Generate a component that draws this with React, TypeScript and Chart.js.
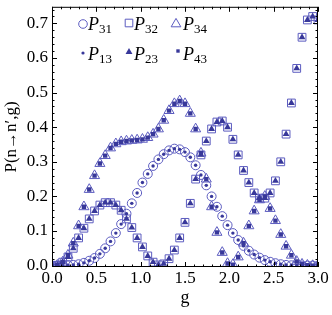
import React, { useEffect, useRef } from 'react';
import { Chart, registerables } from 'chart.js';

Chart.register(...registerables);

// coupling strength g (sample points)
const gValues = [
  0.0, 0.06, 0.12, 0.18, 0.24, 0.3, 0.36, 0.42, 0.48, 0.54,
  0.6, 0.66, 0.72, 0.78, 0.84, 0.9, 0.96, 1.02, 1.08, 1.14,
  1.2, 1.26, 1.32, 1.38, 1.44, 1.5, 1.56, 1.62, 1.68, 1.74,
  1.8, 1.86, 1.92, 1.98, 2.04, 2.1, 2.16, 2.22, 2.28, 2.34,
  2.4, 2.46, 2.52, 2.58, 2.64, 2.7, 2.76, 2.82, 2.88, 2.94, 3.0,
];

// P31 (open circles) — P13 (dots) coincides with it
const p31 = [
  0, 0, 0, 0.001, 0.002, 0.004, 0.008, 0.014, 0.022, 0.034,
  0.05, 0.07, 0.094, 0.12, 0.15, 0.18, 0.21, 0.24, 0.265, 0.288,
  0.307, 0.322, 0.333, 0.338, 0.336, 0.328, 0.313, 0.29, 0.262, 0.232,
  0.2, 0.17, 0.143, 0.117, 0.094, 0.074, 0.057, 0.043, 0.032, 0.023,
  0.016, 0.011, 0.007, 0.004, 0.002, 0.001, 0, 0, 0, 0, 0,
];
const p13 = [
  0, 0, 0, 0.001, 0.002, 0.004, 0.008, 0.014, 0.022, 0.034,
  0.05, 0.07, 0.094, 0.12, 0.15, 0.18, 0.21, 0.24, 0.265, 0.288,
  0.307, 0.322, 0.333, 0.338, 0.336, 0.328, 0.313, 0.29, 0.262, 0.232,
  0.2, 0.17, 0.143, 0.117, 0.094, 0.074, 0.057, 0.043, 0.032, 0.023,
  0.016, 0.011, 0.007, 0.004, 0.002, 0.001, 0, 0, 0, 0, 0,
];

// P32 (open squares) — P23 (filled triangles) coincides with it
const p32 = [
  0, 0.001, 0.01, 0.025, 0.05, 0.08, 0.108, 0.135, 0.158, 0.175,
  0.182, 0.182, 0.175, 0.16, 0.135, 0.11, 0.08, 0.054, 0.028, 0.01,
  0.002, 0.005, 0.02, 0.045, 0.08, 0.125, 0.18, 0.25, 0.32, 0.36,
  0.395, 0.415, 0.418, 0.4, 0.365, 0.32, 0.275, 0.24, 0.21, 0.195,
  0.195, 0.21, 0.245, 0.3, 0.38, 0.47, 0.57, 0.66, 0.71, 0.72, 0.71,
];
const p23 = [
  0, 0.001, 0.01, 0.025, 0.05, 0.08, 0.108, 0.135, 0.158, 0.175,
  0.182, 0.182, 0.175, 0.16, 0.135, 0.11, 0.08, 0.054, 0.028, 0.01,
  0.002, 0.005, 0.02, 0.045, 0.08, 0.125, 0.18, 0.25, 0.32, 0.36,
  0.395, 0.415, 0.418, 0.4, 0.365, 0.32, 0.275, 0.24, 0.21, 0.195,
  0.195, 0.21, 0.245, 0.3, 0.38, 0.47, 0.57, 0.66, 0.71, 0.72, 0.71,
];

// P34 (open triangles) — P43 (filled squares) coincides with it
const p34 = [
  0, 0.001, 0.01, 0.03, 0.065, 0.115, 0.17, 0.22, 0.26, 0.295,
  0.318, 0.34, 0.352, 0.358, 0.36, 0.362, 0.363, 0.365, 0.37, 0.38,
  0.395, 0.42, 0.448, 0.468, 0.476, 0.468, 0.44, 0.395, 0.325, 0.25,
  0.17, 0.096, 0.038, 0.006, 0.003, 0.025, 0.065, 0.115, 0.158, 0.19,
  0.2, 0.165, 0.13, 0.09, 0.056, 0.03, 0.012, 0.004, 0.001, 0, 0,
];
const p43 = [
  0, 0.001, 0.01, 0.03, 0.065, 0.115, 0.17, 0.22, 0.26, 0.295,
  0.318, 0.34, 0.352, 0.358, 0.36, 0.362, 0.363, 0.365, 0.37, 0.38,
  0.395, 0.42, 0.448, 0.468, 0.476, 0.468, 0.44, 0.395, 0.325, 0.25,
  0.17, 0.096, 0.038, 0.006, 0.003, 0.025, 0.065, 0.115, 0.158, 0.19,
  0.2, 0.165, 0.13, 0.09, 0.056, 0.03, 0.012, 0.004, 0.001, 0, 0,
];

const xTickLabels = ['0.0', '0.5', '1.0', '1.5', '2.0', '2.5', '3.0'];
const yTickLabels = ['0.0', '0.1', '0.2', '0.3', '0.4', '0.5', '0.6', '0.7'];

const FILL = '#38389a';
const LINE = '#5c5cc0';
const SERIF = "'Liberation Serif', 'Times New Roman', serif";

const toPts = (ys: number[]) => gValues.map((g, i) => ({ x: g, y: ys[i] }));

function drawMarker(ctx: CanvasRenderingContext2D, kind: string, x: number, y: number) {
  ctx.save();
  ctx.lineWidth = 1;
  ctx.strokeStyle = LINE;
  ctx.fillStyle = FILL;
  ctx.beginPath();
  if (kind === 'openCircle') {
    ctx.arc(x, y, 4.3, 0, Math.PI * 2);
    ctx.stroke();
  } else if (kind === 'openSquare') {
    ctx.rect(x - 3.8, y - 3.8, 7.6, 7.6);
    ctx.stroke();
  } else if (kind === 'openTriangle') {
    const r = 5.6;
    for (let k = 0; k < 3; k++) {
      const a = (k * 2 * Math.PI) / 3;
      const px = x + Math.sin(a) * r;
      const py = y - Math.cos(a) * r;
      if (k === 0) ctx.moveTo(px, py);
      else ctx.lineTo(px, py);
    }
    ctx.closePath();
    ctx.stroke();
  } else if (kind === 'dot') {
    ctx.arc(x, y, 1.6, 0, Math.PI * 2);
    ctx.fill();
  } else if (kind === 'fillTriangle') {
    const r = 4;
    for (let k = 0; k < 3; k++) {
      const a = (k * 2 * Math.PI) / 3;
      const px = x + Math.sin(a) * r;
      const py = y - Math.cos(a) * r;
      if (k === 0) ctx.moveTo(px, py);
      else ctx.lineTo(px, py);
    }
    ctx.closePath();
    ctx.fill();
  } else if (kind === 'fillSquare') {
    ctx.rect(x - 1.7, y - 1.7, 3.4, 3.4);
    ctx.fill();
  }
  ctx.restore();
}

const legendItems = [
  { kind: 'openCircle', sub: '31', mx: 83, my: 24, tx: 88, ty: 30 },
  { kind: 'openSquare', sub: '32', mx: 129, my: 23, tx: 134, ty: 30 },
  { kind: 'openTriangle', sub: '34', mx: 176, my: 24, tx: 183, ty: 30 },
  { kind: 'dot', sub: '13', mx: 83, my: 53, tx: 88, ty: 60 },
  { kind: 'fillTriangle', sub: '23', mx: 129, my: 52, tx: 134, ty: 60 },
  { kind: 'fillSquare', sub: '43', mx: 178, my: 51, tx: 183, ty: 60 },
];

const framePlugin = {
  id: 'mmaFrame',
  afterDatasetsDraw(chart: any) {
    const { ctx, chartArea } = chart;
    const xs = chart.scales.x;
    const ys = chart.scales.y;
    const { left, right, top, bottom } = chartArea;
    ctx.save();
    ctx.strokeStyle = '#000';
    ctx.lineWidth = 1;
    // frame
    ctx.strokeRect(left + 0.5, top + 0.5, right - left - 1, bottom - top - 1);
    // x ticks (bottom & top), minor every 0.1
    ctx.beginPath();
    for (let i = 0; i <= 30; i++) {
      const v = i / 10;
      const px = Math.round(xs.getPixelForValue(v)) + 0.5;
      const len = i % 5 === 0 ? 5 : 2.5;
      ctx.moveTo(px, bottom);
      ctx.lineTo(px, bottom - len);
      ctx.moveTo(px, top);
      ctx.lineTo(px, top + len);
    }
    // y ticks (left & right), minor every 0.02
    for (let i = 0; i <= 37; i++) {
      const v = i / 50;
      const py = Math.round(ys.getPixelForValue(v)) + 0.5;
      if (py < top || py > bottom) continue;
      const len = i % 5 === 0 ? 5 : 2.5;
      ctx.moveTo(left, py);
      ctx.lineTo(left + len, py);
      ctx.moveTo(right, py);
      ctx.lineTo(right - len, py);
    }
    ctx.stroke();

    // tick labels
    ctx.fillStyle = '#000';
    ctx.font = `17px ${SERIF}`;
    ctx.textAlign = 'center';
    ctx.textBaseline = 'alphabetic';
    xTickLabels.forEach((t) => {
      const px = xs.getPixelForValue(parseFloat(t));
      ctx.fillText(t, px, bottom + 16);
    });
    ctx.textAlign = 'right';
    ctx.textBaseline = 'middle';
    yTickLabels.forEach((t) => {
      const py = ys.getPixelForValue(parseFloat(t));
      ctx.fillText(t, left - 4, py);
    });

    // axis titles
    ctx.font = `18px ${SERIF}`;
    ctx.textAlign = 'center';
    ctx.textBaseline = 'alphabetic';
    ctx.fillText('g', (left + right) / 2, 303);
    ctx.save();
    ctx.translate(16, (top + bottom) / 2);
    ctx.rotate(-Math.PI / 2);
    ctx.font = `17px ${SERIF}`;
    ctx.fillText('P(n\u2192n\u2032,g)', 0, 0);
    ctx.restore();

    // legend
    legendItems.forEach((it) => {
      drawMarker(ctx, it.kind, it.mx, it.my);
      ctx.textAlign = 'left';
      ctx.textBaseline = 'alphabetic';
      ctx.font = `italic 18px ${SERIF}`;
      ctx.fillText('P', it.tx, it.ty);
      const w = ctx.measureText('P').width;
      ctx.font = `13px ${SERIF}`;
      ctx.fillText(it.sub, it.tx + w, it.ty + 3);
    });
    ctx.restore();
  },
};

export default function App() {
  const canvasRef = useRef<HTMLCanvasElement | null>(null);

  useEffect(() => {
    const canvas = canvasRef.current;
    if (!canvas) return;
    const chart = new Chart(canvas, {
      type: 'scatter',
      data: {
        datasets: [
          {
            label: 'P13',
            data: toPts(p13),
            pointStyle: 'circle',
            pointRadius: 1.7,
            backgroundColor: FILL,
            borderWidth: 0,
          },
          {
            label: 'P23',
            data: toPts(p23),
            pointStyle: 'triangle',
            pointRadius: 3.9,
            backgroundColor: FILL,
            borderWidth: 0,
          },
          {
            label: 'P43',
            data: toPts(p43),
            pointStyle: 'rect',
            pointRadius: 3.1,
            backgroundColor: FILL,
            borderWidth: 0,
          },
          {
            label: 'P31',
            data: toPts(p31),
            pointStyle: 'circle',
            pointRadius: 4.5,
            backgroundColor: 'rgba(0,0,0,0)',
            borderColor: LINE,
            borderWidth: 1,
          },
          {
            label: 'P32',
            data: toPts(p32),
            pointStyle: 'rect',
            pointRadius: 5.5,
            backgroundColor: 'rgba(0,0,0,0)',
            borderColor: LINE,
            borderWidth: 1,
          },
          {
            label: 'P34',
            data: toPts(p34),
            pointStyle: 'triangle',
            pointRadius: 5.8,
            backgroundColor: 'rgba(0,0,0,0)',
            borderColor: LINE,
            borderWidth: 1,
          },
        ],
      },
      options: {
        animation: false,
        responsive: false,
        maintainAspectRatio: false,
        devicePixelRatio: 1,
        layout: { padding: { left: 52, right: 14, top: 1, bottom: 48 } },
        scales: {
          x: { type: 'linear', min: 0, max: 3, display: false },
          y: { type: 'linear', min: -0.004, max: 0.748, display: false },
        },
        plugins: {
          legend: { display: false },
          tooltip: { enabled: false },
        },
        events: [],
      },
      plugins: [framePlugin],
    });
    return () => chart.destroy();
  }, []);

  return (
    <div style={{ position: 'absolute', left: 0, top: 0, width: 332, height: 315, background: '#fff' }}>
      <canvas ref={canvasRef} width={332} height={315} />
    </div>
  );
}
